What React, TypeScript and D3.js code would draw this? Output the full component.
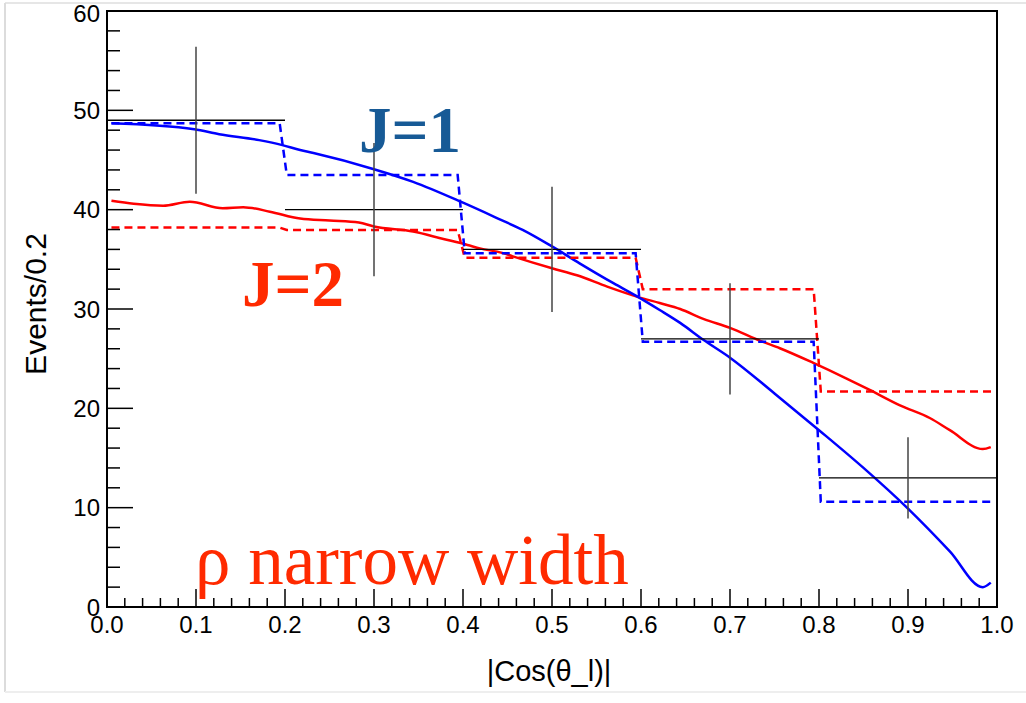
import React from 'react';
import * as d3 from 'd3';

// ---- data ----
const binEdges = [0, 0.2, 0.4, 0.6, 0.8, 1.0];
const dataCounts = [49, 40, 36, 27, 13];
const dataErrors = [7.4, 6.7, 6.3, 5.6, 4.1];
const j1Hist = [48.7, 43.5, 35.6, 26.7, 10.6];
const j2Hist = [38.2, 37.95, 35.15, 32.0, 21.7];

const j1CurveX = [0.005, 0.098, 0.126, 0.171, 0.197, 0.217, 0.232, 0.299, 0.344, 0.4, 0.442, 0.467, 0.5, 0.531, 0.569, 0.597, 0.621, 0.644, 0.67, 0.7, 0.75, 0.8, 0.85, 0.9, 0.947, 0.984, 0.993];
const j1CurveY = [48.7, 48.1, 47.6, 47.0, 46.5, 46.0, 45.7, 44.1, 42.8, 40.7, 39.0, 37.97, 36.3, 34.6, 32.6, 31.2, 29.9, 28.6, 26.9, 25.1, 21.5, 17.8, 14.0, 9.9, 5.6, 2.0, 2.45];

const j2CurveX = [0.005, 0.03, 0.063, 0.093, 0.13, 0.153, 0.183, 0.217, 0.25, 0.283, 0.3, 0.344, 0.378, 0.405, 0.419, 0.444, 0.456, 0.5, 0.528, 0.562, 0.597, 0.621, 0.644, 0.67, 0.7, 0.734, 0.756, 0.793, 0.831, 0.857, 0.891, 0.925, 0.947, 0.984, 0.993];
const j2CurveY = [40.9, 40.6, 40.4, 40.8, 40.15, 40.25, 39.8, 39.1, 38.9, 38.7, 38.3, 37.8, 37.05, 36.45, 36.1, 35.65, 35.3, 34.1, 33.4, 32.25, 31.2, 30.6, 30.0, 29.0, 28.1, 26.8, 26.05, 24.6, 23.0, 21.85, 20.3, 19.0, 17.8, 15.9, 16.1];

const yMajorTicks = [0, 10, 20, 30, 40, 50, 60];
const yTickLabels = ['0', '10', '20', '30', '40', '50', '60'];
const xMajorTicks = [0, 0.1, 0.2, 0.3, 0.4, 0.5, 0.6, 0.7, 0.8, 0.9, 1.0];
const xTickLabels = ['0.0', '0.1', '0.2', '0.3', '0.4', '0.5', '0.6', '0.7', '0.8', '0.9', '1.0'];

const xTitle = '|Cos(θ_l)|';
const yTitle = 'Events/0.2';
const labelJ1 = 'J=1';
const labelJ2 = 'J=2';
const labelNote = 'ρ narrow width';

// ---- layout ----
const W = 1026;
const H = 703;
const X0 = 107, X1 = 997, Y0 = 607, Y1 = 11;
const sansFont = '"Liberation Sans", Arial, Helvetica, sans-serif';
const serifFont = '"Liberation Serif", "Times New Roman", serif';

export default function App() {
  const x = d3.scaleLinear().domain([0, 1]).range([X0, X1]);
  const y = d3.scaleLinear().domain([0, 60]).range([Y0, Y1]);

  const yMinor = d3.range(0, 60.001, 2).filter((v) => Math.abs(v % 10) > 1e-6);
  const xMinor = d3.range(0, 1.0001, 0.02).filter((v) => Math.abs(Math.round(v * 10) - v * 10) > 1e-6);

  const stepPoints = (vals: number[]) => {
    const pts: [number, number][] = [];
    vals.forEach((v, i) => {
      const a = binEdges[i];
      const b = binEdges[i + 1];
      const start = i === 0 ? a + 0.005 : a + 0.002;
      const end = i === vals.length - 1 ? b - 0.005 : b - 0.006;
      pts.push([start, v], [end, v]);
    });
    return pts;
  };

  const lineLinear = d3
    .line<[number, number]>()
    .x((d) => x(d[0]))
    .y((d) => y(d[1]));
  const lineSmooth = d3
    .line<[number, number]>()
    .x((d) => x(d[0]))
    .y((d) => y(d[1]))
    .curve(d3.curveMonotoneX);

  const j1Pts = j1CurveX.map((v, i) => [v, j1CurveY[i]] as [number, number]);
  const j2Pts = j2CurveX.map((v, i) => [v, j2CurveY[i]] as [number, number]);

  return (
    <svg
      width={W}
      height={H}
      style={{ position: 'absolute', left: 0, top: 0, background: '#fff' }}
    >
      {/* faint outer canvas border */}
      <line x1={5} y1={3} x2={W} y2={3} stroke="#e6e6e6" strokeWidth={2} />
      <line x1={5} y1={3} x2={5} y2={692} stroke="#dcdcdc" strokeWidth={2} />
      <line x1={5} y1={692} x2={W} y2={692} stroke="#eeeeee" strokeWidth={2} />

      {/* curves */}
      <path d={lineSmooth(j2Pts) || ''} fill="none" stroke="#ff0000" strokeWidth={2.5} />
      <path d={lineSmooth(j1Pts) || ''} fill="none" stroke="#0000ff" strokeWidth={2.5} />

      {/* dashed model histograms */}
      <path d={lineLinear(stepPoints(j2Hist)) || ''} fill="none" stroke="#ff0000" strokeWidth={2.5} strokeDasharray="8,5" />
      <path d={lineLinear(stepPoints(j1Hist)) || ''} fill="none" stroke="#0000ff" strokeWidth={2.5} strokeDasharray="8,5" />

      {/* data */}
      {dataCounts.map((v, i) => {
        const a = binEdges[i];
        const b = binEdges[i + 1];
        const c = (a + b) / 2;
        return (
          <g key={'d' + i}>
            <line x1={x(a)} x2={x(b)} y1={y(v)} y2={y(v)} stroke="#000" strokeWidth={1.3} />
            <line x1={x(c)} x2={x(c)} y1={y(v + dataErrors[i])} y2={y(v - dataErrors[i])} stroke="#444" strokeWidth={1.5} />
          </g>
        );
      })}

      {/* frame */}
      <rect x={X0} y={Y1} width={X1 - X0} height={Y0 - Y1} fill="none" stroke="#000" strokeWidth={2} />

      {/* y ticks */}
      {yMajorTicks.map((t) => (
        <line key={'ym' + t} x1={X0} x2={X0 + 26} y1={y(t)} y2={y(t)} stroke="#000" strokeWidth={1.5} />
      ))}
      {yMinor.map((t) => (
        <line key={'yn' + t} x1={X0} x2={X0 + 13} y1={y(t)} y2={y(t)} stroke="#000" strokeWidth={1.5} />
      ))}
      {yMajorTicks.map((t, i) => (
        <text key={'yl' + t} x={100} y={y(t) + (i === yMajorTicks.length - 1 ? 2 : 0)} dy="0.36em" textAnchor="end" fontFamily={sansFont} fontSize={24} fill="#000">
          {yTickLabels[i]}
        </text>
      ))}

      {/* x ticks */}
      {xMajorTicks.map((t) => (
        <line key={'xm' + t} x1={x(t)} x2={x(t)} y1={Y0} y2={Y0 - 18} stroke="#000" strokeWidth={1.5} />
      ))}
      {xMinor.map((t) => (
        <line key={'xn' + t} x1={x(t)} x2={x(t)} y1={Y0} y2={Y0 - 9} stroke="#000" strokeWidth={1.5} />
      ))}
      {xMajorTicks.map((t, i) => (
        <text key={'xl' + t} x={x(t)} y={633} textAnchor="middle" fontFamily={sansFont} fontSize={24} fill="#000">
          {xTickLabels[i]}
        </text>
      ))}

      {/* axis titles */}
      <text x={549} y={681} textAnchor="middle" fontFamily={sansFont} fontSize={29} fill="#000">
        {xTitle}
      </text>
      <text transform="translate(46,304) rotate(-90)" textAnchor="middle" fontFamily={sansFont} fontSize={30} fill="#000">
        {yTitle}
      </text>

      {/* annotations */}
      <text x={359} y={152} fontFamily={serifFont} fontWeight="bold" fontSize={65} fill="#175a96">
        {labelJ1}
      </text>
      <text x={242} y={306} fontFamily={serifFont} fontWeight="bold" fontSize={65} fill="#ff2a00">
        {labelJ2}
      </text>
      <text x={195} y={584} fontFamily={serifFont} fontSize={71} fill="#ff2a00">
        {labelNote}
      </text>
    </svg>
  );
}
